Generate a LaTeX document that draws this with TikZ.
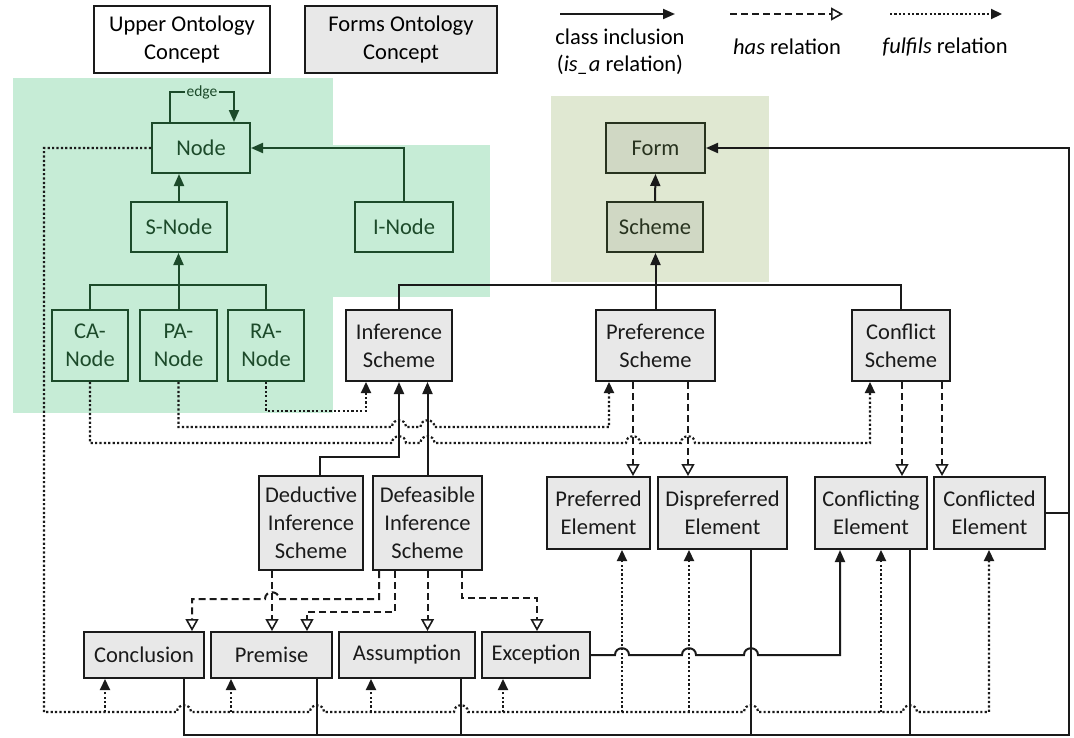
\documentclass[tikz,border=0pt]{standalone}
\usepackage{fontspec}
\setmainfont{Carlito}
\usetikzlibrary{arrows.meta}

\definecolor{mint}{HTML}{C6ECD6}
\definecolor{olivebg}{HTML}{E0E8D2}
\definecolor{formfill}{HTML}{D0D8C4}
\definecolor{formline}{HTML}{28331F}
\definecolor{dkgreen}{HTML}{1C4A2A}
\definecolor{boxgray}{HTML}{E8E8E8}
\definecolor{ink}{HTML}{1A1A1A}

\newcommand{\boxfont}{\fontsize{22.5}{28}\selectfont}
% small bump where a line crosses another one (rightward / leftward)
\newcommand{\hopR}[2]{-- (#1-7,#2) .. controls (#1-7,#2-9) and (#1+7,#2-9) .. (#1+7,#2)}
\newcommand{\hopL}[2]{-- (#1+7,#2) .. controls (#1+7,#2-9) and (#1-7,#2-9) .. (#1-7,#2)}

\tikzset{
  basebox/.style={draw, line width=2pt, inner sep=0pt, align=center, font=\boxfont},
  gbox/.style={basebox, draw=dkgreen, text=dkgreen},
  fbox/.style={basebox, draw=ink, fill=boxgray, text=ink},
  obox/.style={basebox, draw=formline, fill=formfill, text=formline},
  lbox/.style={basebox, draw=ink, text=black},
  ltext/.style={align=center, inner sep=0pt, font=\boxfont, text=black},
  plainline/.style={draw=ink, line width=2pt},
  isa/.style={plainline, -{Triangle[length=12pt,width=10pt]}},
  gline/.style={draw=dkgreen, line width=2pt},
  gisa/.style={gline, -{Triangle[length=12pt,width=10pt]}},
  has/.style={plainline, dash pattern=on 7pt off 4pt,
    -{Triangle[length=12pt,width=13pt,fill=white,line width=1.6pt]}},
  ful/.style={draw=ink, line width=2.2pt, dash pattern=on 2.2pt off 2.2pt,
    -{Triangle[length=11pt,width=10pt]}},
}

\begin{document}
\begin{tikzpicture}[x=1pt,y=-1pt]
\useasboundingbox (0,0) rectangle (1074,737);

% background panels
\fill[mint] (13,78) rectangle (333,413);
\fill[mint] (333,145) rectangle (490,297);
\fill[olivebg] (551,96) rectangle (769,282);

% legend
\node[lbox, fill=white, minimum width=176, minimum height=67] (lgup) at (182,39.5) {Upper Ontology\\Concept};
\node[lbox, fill=boxgray, minimum width=192, minimum height=67] (lgforms) at (401,39.5) {Forms Ontology\\Concept};
\coordinate (la1) at (560,14); \coordinate (la2) at (675,14);
\coordinate (lb1) at (730,14); \coordinate (lb2) at (843,14);
\coordinate (lc1) at (890,14); \coordinate (lc2) at (1002,14);
\draw[isa] (la1) -- (la2);
\draw[has] (lb1) -- (lb2);
\draw[ful] (lc1) -- (lc2);
\node[ltext, font=\fontsize{22.5}{27}\selectfont] (lgisa) at (620,51.5) {class inclusion\\(\textit{is\_a} relation)};
\node[ltext] (lghas) at (787,47) {\textit{has} relation};
\node[ltext] (lgful) at (945,47) {\textit{fulfils} relation};

% upper ontology
\node[gbox, minimum width=98, minimum height=50] (node) at (201,148) {Node};
\node[gbox, minimum width=96, minimum height=50] (snode) at (179,227) {S-Node};
\node[gbox, minimum width=98, minimum height=50] (inode) at (404,227) {I-Node};
\node[gbox, minimum width=76, minimum height=71] (ca) at (90,345.5) {CA-\\Node};
\node[gbox, minimum width=77, minimum height=71] (pa) at (178.5,345.5) {PA-\\Node};
\node[gbox, minimum width=76, minimum height=71] (ra) at (266,345.5) {RA-\\Node};

% forms ontology
\node[obox, minimum width=99, minimum height=50] (form) at (655.5,148) {Form};
\node[obox, minimum width=96, minimum height=50] (scheme) at (655,227) {Scheme};
\node[fbox, minimum width=106, minimum height=71] (inf) at (399,345.5) {Inference\\Scheme};
\node[fbox, minimum width=119, minimum height=71] (pref) at (655.5,345.5) {Preference\\Scheme};
\node[fbox, minimum width=98, minimum height=71] (conf) at (901,345.5) {Conflict\\Scheme};
\node[fbox, minimum width=104, minimum height=94] (ded) at (311,523) {Deductive\\Inference\\Scheme};
\node[fbox, minimum width=109, minimum height=94] (def) at (427.5,523) {Defeasible\\Inference\\Scheme};
\node[fbox, minimum width=103, minimum height=72] (prefd) at (598.5,513) {Preferred\\Element};
\node[fbox, minimum width=129, minimum height=72] (dispref) at (722.5,513) {Dispreferred\\Element};
\node[fbox, minimum width=112, minimum height=72] (cing) at (871,513) {Conflicting\\Element};
\node[fbox, minimum width=111, minimum height=72] (cted) at (989.5,513) {Conflicted\\Element};
\node[fbox, minimum width=120, minimum height=46] (concl) at (144,655) {Conclusion};
\node[fbox, minimum width=121, minimum height=46] (prem) at (271.5,655) {Premise};
\node[fbox, minimum width=136, minimum height=46] (assum) at (407,655) {Assumption};
\node[fbox, minimum width=108, minimum height=46] (excep) at (536,655) {Exception};

% class inclusion inside the upper ontology
\draw[gisa] (node.north -| 170,0) -- (170,92)
  -- node[fill=mint, inner sep=1.5pt, text=dkgreen, font=\fontsize{15.5}{18}\selectfont] (edgelbl) {edge}
  (234,92) -- (node.north -| 234,0);
\draw[gisa] (snode.north) -- (snode.north |- node.south);
\draw[gisa] (inode.north) |- (node.east);
\draw[gline] (ca.north) -- (ca.north |- 0,285) -- (ra.north |- 0,285) -- (ra.north);
\draw[gisa] (pa.north) -- (pa.north |- snode.south);

% class inclusion inside the forms ontology
\draw[isa] (scheme.north) -- (form.south);
\draw[plainline] (inf.north) -- (inf.north |- 0,285) -- (conf.north |- 0,285) -- (conf.north);
\draw[isa] (pref.north) -- (pref.north |- scheme.south);
\draw[isa] (ded.north -| 320,0) -- (320,457) -- (inf.south |- 0,457) -- (inf.south);
\draw[isa] (def.north) -- (def.north |- inf.south);

% fulfils: argument nodes to schemes
\draw[ful] (ra.south) -- (ra.south |- 0,411) -- (366,411) -- (inf.south -| 366,0);
\draw[ful] (pa.south) -- (pa.south |- 0,427) \hopR{399}{427} \hopR{427.5}{427} -- (609,427) -- (pref.south -| 609,0);
\draw[ful] (ca.south) -- (ca.south |- 0,443) \hopR{399}{443} \hopR{427.5}{443} \hopR{633}{443} \hopR{688}{443} -- (870,443) -- (conf.south -| 870,0);

% has: schemes to their elements
\draw[has] (pref.south -| 633,0) -- (prefd.north -| 633,0);
\draw[has] (pref.south -| 688,0) -- (dispref.north -| 688,0);
\draw[has] (conf.south -| 902,0) -- (cing.north -| 902,0);
\draw[has] (conf.south -| 942,0) -- (cted.north -| 942,0);
\draw[has] (ded.south -| 272,0) -- (prem.north -| 272,0);
\draw[has] (def.south -| 379,0) -- (379,599) \hopL{272}{599} -- (192,599) -- (concl.north -| 192,0);
\draw[has] (def.south -| 395,0) -- (395,612) -- (307,612) -- (prem.north -| 307,0);
\draw[has] (def.south) -- (def.south |- assum.north);
\draw[has] (def.south -| 462,0) -- (462,598) -- (537,598) -- (excep.north -| 537,0);

% fulfils: nodes to elements
\coordinate (fbus) at (0,712);
\draw[ful] (node.west) -- (node.west -| 44,0) -- (44,712)
  \hopR{184}{712} \hopR{317}{712} \hopR{461}{712} \hopR{751}{712} \hopR{910}{712}
  -- (989,712) -- (cted.south -| 989,0);
\foreach \x/\b in {105/concl, 231/prem, 371/assum, 503/excep, 622/prefd, 689/dispref, 881/cing}
  \draw[ful] (fbus -| \x,0) -- (\b.south -| \x,0);

% exception is a conflicting element
\draw[isa] (excep.east) \hopR{622}{655} \hopR{689}{655} \hopR{751}{655} -- (840,655) -- (cing.south -| 840,0);

% elements are forms
\coordinate (bbus) at (0,735);
\draw[isa] (concl.south -| 184,0) -- (bbus -| 184,0) -- (bbus -| 1069,0) -- (form.east -| 1069,0) -- (form.east);
\foreach \x/\b in {317/prem, 461/assum, 751/dispref, 910/cing}
  \draw[plainline] (\b.south -| \x,0) -- (bbus -| \x,0);
\draw[plainline] (cted.east) -- (cted.east -| 1069,0);
\end{tikzpicture}
\end{document}
